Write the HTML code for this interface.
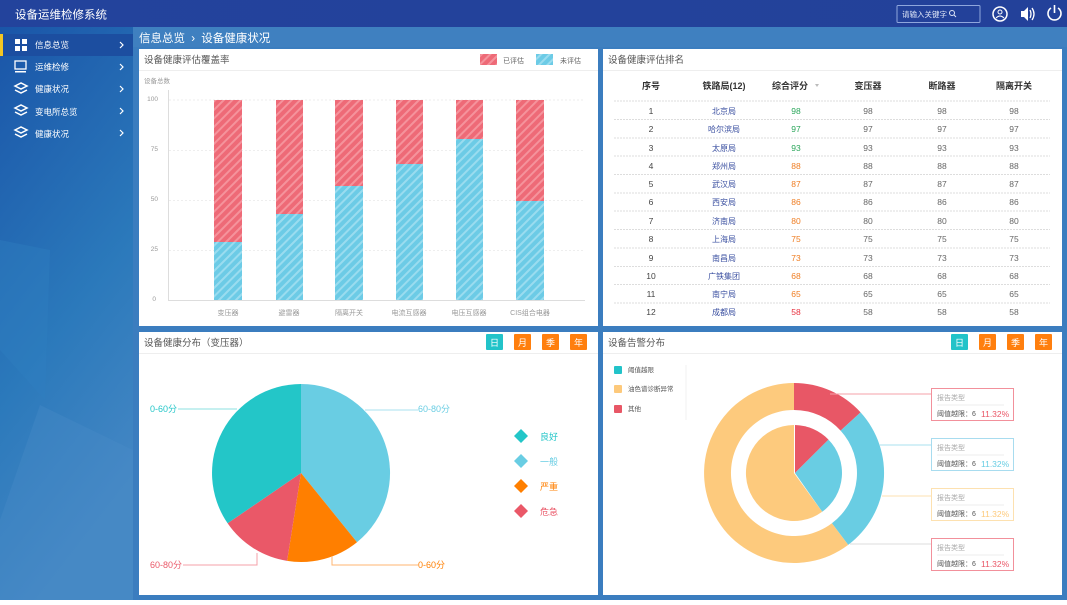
<!DOCTYPE html>
<html><head><meta charset="utf-8"><style>
body{margin:0;width:1067px;height:600px;overflow:hidden;font-family:"Liberation Sans","Noto Sans CJK SC",sans-serif;}
</style></head><body>
<svg width="1067" height="600" xmlns="http://www.w3.org/2000/svg" font-family="Liberation Sans, Noto Sans CJK SC, sans-serif">
<defs>
<linearGradient id="sb" x1="0" y1="0" x2="0.3" y2="1"><stop offset="0" stop-color="#1a55a8"/><stop offset="0.6" stop-color="#2b79bb"/><stop offset="1" stop-color="#4487c4"/></linearGradient>
<linearGradient id="hd" x1="0" y1="0" x2="1" y2="0"><stop offset="0" stop-color="#23439c"/><stop offset="1" stop-color="#23419a"/></linearGradient>
<pattern id="pr" width="6" height="6" patternUnits="userSpaceOnUse" patternTransform="rotate(-45)"><rect width="6" height="6" fill="#ee6a77"/><rect width="6" height="2" fill="#f5939c"/></pattern>
<pattern id="pb" width="6" height="6" patternUnits="userSpaceOnUse" patternTransform="rotate(-45)"><rect width="6" height="6" fill="#6ccbe6"/><rect width="6" height="2" fill="#9adcef"/></pattern>
</defs>
<rect width="1067" height="600" fill="#3b7dbf"/>
<rect x="0" y="27" width="133" height="573" fill="url(#sb)"/>
<polygon points="0,240 50,250 45,400 0,350" fill="#2f7fc0" opacity="0.4"/>
<polygon points="40,405 133,450 133,600 0,600 0,520" fill="#4a8cc8" opacity="0.35"/>
<rect x="0" y="0" width="1067" height="27" fill="url(#hd)"/>
<text x="15" y="18.5" fill="#fff" font-size="11.5">设备运维检修系统</text>
<rect x="897" y="5.5" width="83" height="17" fill="none" stroke="#8fa6dc" rx="1"/>
<text x="902" y="17" fill="#dfe6f7" font-size="7.5">请输入关键字</text>
<circle cx="952" cy="13" r="2.5" fill="none" stroke="#dfe6f7"/><line x1="954" y1="15" x2="956" y2="17" stroke="#dfe6f7"/>
<circle cx="1000" cy="14" r="7" fill="none" stroke="#fff" stroke-width="1.5"/><circle cx="1000" cy="12" r="2" fill="none" stroke="#fff"/><path d="M996 18 Q1000 14 1004 18" fill="none" stroke="#fff"/>
<path d="M1021 11 h3 l4 -4 v14 l-4 -4 h-3 z" fill="#fff"/><path d="M1030 10 q2 4 0 8 M1032 8 q4 6 0 12" stroke="#fff" fill="none" stroke-width="1.3"/>
<path d="M1051 8 a6.5 6.5 0 1 0 7 0" fill="none" stroke="#fff" stroke-width="1.6"/><line x1="1054.5" y1="5" x2="1054.5" y2="13" stroke="#fff" stroke-width="1.6"/>
<rect x="0" y="34" width="133" height="22" fill="#1c4ea0"/><rect x="0" y="34" width="3" height="22" fill="#f3c623"/>
<g fill="#fff" font-size="8.5">
<rect x="15" y="39" width="5" height="5"/><rect x="22" y="39" width="5" height="5"/><rect x="15" y="46" width="5" height="5"/><rect x="22" y="46" width="5" height="5"/>
<text x="35" y="48">信息总览</text>
<rect x="15" y="61" width="11" height="8" fill="none" stroke="#fff" stroke-width="1.3"/><rect x="15" y="71" width="11" height="1.5"/>
<text x="35" y="70">运维检修</text>
<path d="M15 86 l6 -3 l6 3 l-6 3 z M15 90 l6 3 l6 -3" fill="none" stroke="#fff" stroke-width="1.5"/><text x="35" y="92">健康状况</text>
<path d="M15 108 l6 -3 l6 3 l-6 3 z M15 112 l6 3 l6 -3" fill="none" stroke="#fff" stroke-width="1.5"/><text x="35" y="115">变电所总览</text>
<path d="M15 130 l6 -3 l6 3 l-6 3 z M15 134 l6 3 l6 -3" fill="none" stroke="#fff" stroke-width="1.5"/><text x="35" y="137">健康状况</text>
</g>
<g stroke="#fff" fill="none" stroke-width="1.2"><path d="M120 42 l3 3 l-3 3"/><path d="M120 64 l3 3 l-3 3"/><path d="M120 86 l3 3 l-3 3"/><path d="M120 108 l3 3 l-3 3"/><path d="M120 130 l3 3 l-3 3"/></g>
<rect x="133" y="27" width="934" height="20" fill="#3f80c0"/>
<text x="139" y="42" fill="#fff" font-size="11.5">信息总览 <tspan dx="3">›</tspan> <tspan dx="3">设备健康状况</tspan></text>
<g fill="#fff"><rect x="139" y="49" width="459" height="277"/><rect x="603" y="49" width="459" height="277"/><rect x="139" y="332" width="459" height="263"/><rect x="603" y="332" width="459" height="263"/></g>
<g stroke="#eee"><line x1="139" y1="70.5" x2="598" y2="70.5"/><line x1="603" y1="70.5" x2="1062" y2="70.5"/><line x1="139" y1="353.5" x2="598" y2="353.5"/><line x1="603" y1="353.5" x2="1062" y2="353.5"/></g>
<g fill="#555" font-size="9.5"><text x="144" y="63">设备健康评估覆盖率</text><text x="608" y="63">设备健康评估排名</text><text x="144" y="346">设备健康分布（变压器）</text><text x="608" y="346">设备告警分布</text></g>
<rect x="480" y="54" width="17" height="11" fill="url(#pr)"/><text x="503" y="63" font-size="7" fill="#666">已评估</text>
<rect x="536" y="54" width="17" height="11" fill="url(#pb)"/><text x="560" y="63" font-size="7" fill="#666">未评估</text>
<text x="144" y="83" font-size="6.5" fill="#999">设备总数</text>
<g stroke="#eee" stroke-dasharray="2,2"><line x1="169" y1="100" x2="585" y2="100"/><line x1="169" y1="150.5" x2="585" y2="150.5"/><line x1="169" y1="200.5" x2="585" y2="200.5"/><line x1="169" y1="250.5" x2="585" y2="250.5"/></g>
<line x1="168.5" y1="90" x2="168.5" y2="301" stroke="#ddd"/><line x1="168" y1="300.5" x2="585" y2="300.5" stroke="#ddd"/>
<g font-size="6.5" fill="#999" text-anchor="end"><text x="158" y="101">100</text><text x="158" y="151">75</text><text x="158" y="201">50</text><text x="158" y="251">25</text><text x="156" y="301">0</text></g>
<g>
<rect x="214" y="100" width="28" height="142" fill="url(#pr)"/><rect x="214" y="242" width="28" height="58" fill="url(#pb)"/>
<rect x="276" y="100" width="27" height="114" fill="url(#pr)"/><rect x="276" y="214" width="27" height="86" fill="url(#pb)"/>
<rect x="335" y="100" width="28" height="86" fill="url(#pr)"/><rect x="335" y="186" width="28" height="114" fill="url(#pb)"/>
<rect x="396" y="100" width="27" height="64" fill="url(#pr)"/><rect x="396" y="164" width="27" height="136" fill="url(#pb)"/>
<rect x="456" y="100" width="27" height="39" fill="url(#pr)"/><rect x="456" y="139" width="27" height="161" fill="url(#pb)"/>
<rect x="516" y="100" width="28" height="101" fill="url(#pr)"/><rect x="516" y="201" width="28" height="99" fill="url(#pb)"/>
</g>
<g font-size="7" fill="#999" text-anchor="middle"><text x="228" y="315">变压器</text><text x="289" y="315">避雷器</text><text x="349" y="315">隔离开关</text><text x="409" y="315">电流互感器</text><text x="469" y="315">电压互感器</text><text x="530" y="315">CIS组合电器</text></g>
<g font-size="9" fill="#333" font-weight="bold" text-anchor="middle"><text x="651" y="89">序号</text><text x="724" y="89">铁路局(12)</text><text x="790" y="89">综合评分</text><text x="868" y="89">变压器</text><text x="942" y="89">断路器</text><text x="1014" y="89">隔离开关</text></g>
<path d="M815 84 h4 l-2 3 z" fill="#bbb"/>
<g stroke="#ddd" stroke-dasharray="2,1"><line x1="614" y1="101" x2="1050" y2="101"/><line x1="614" y1="119.5" x2="1050" y2="119.5"/><line x1="614" y1="138" x2="1050" y2="138"/><line x1="614" y1="156" x2="1050" y2="156"/><line x1="614" y1="174.5" x2="1050" y2="174.5"/><line x1="614" y1="193" x2="1050" y2="193"/><line x1="614" y1="211" x2="1050" y2="211"/><line x1="614" y1="229.5" x2="1050" y2="229.5"/><line x1="614" y1="248" x2="1050" y2="248"/><line x1="614" y1="266.5" x2="1050" y2="266.5"/><line x1="614" y1="284.5" x2="1050" y2="284.5"/><line x1="614" y1="303" x2="1050" y2="303"/></g>
<g font-size="8.5" text-anchor="middle">
<g fill="#444"><text x="651" y="114">1</text><text x="651" y="132">2</text><text x="651" y="151">3</text><text x="651" y="169">4</text><text x="651" y="187">5</text><text x="651" y="205">6</text><text x="651" y="224">7</text><text x="651" y="242">8</text><text x="651" y="261">9</text><text x="651" y="279">10</text><text x="651" y="297">11</text><text x="651" y="315">12</text></g>
<g fill="#3a4fa0" font-size="8"><text x="724" y="114">北京局</text><text x="724" y="132">哈尔滨局</text><text x="724" y="151">太原局</text><text x="724" y="169">郑州局</text><text x="724" y="187">武汉局</text><text x="724" y="205">西安局</text><text x="724" y="224">济南局</text><text x="724" y="242">上海局</text><text x="724" y="261">南昌局</text><text x="724" y="279">广铁集团</text><text x="724" y="297">南宁局</text><text x="724" y="315">成都局</text></g>
<g fill="#2aa65a"><text x="796" y="114">98</text><text x="796" y="132">97</text><text x="796" y="151">93</text></g>
<g fill="#ef7d22"><text x="796" y="169">88</text><text x="796" y="187">87</text><text x="796" y="205">86</text><text x="796" y="224">80</text><text x="796" y="242">75</text><text x="796" y="261">73</text><text x="796" y="279">68</text><text x="796" y="297">65</text></g>
<text x="796" y="315" fill="#e8303e">58</text>
<g fill="#666">
<text x="868" y="114">98</text><text x="868" y="132">97</text><text x="868" y="151">93</text><text x="868" y="169">88</text><text x="868" y="187">87</text><text x="868" y="205">86</text><text x="868" y="224">80</text><text x="868" y="242">75</text><text x="868" y="261">73</text><text x="868" y="279">68</text><text x="868" y="297">65</text><text x="868" y="315">58</text>
<text x="942" y="114">98</text><text x="942" y="132">97</text><text x="942" y="151">93</text><text x="942" y="169">88</text><text x="942" y="187">87</text><text x="942" y="205">86</text><text x="942" y="224">80</text><text x="942" y="242">75</text><text x="942" y="261">73</text><text x="942" y="279">68</text><text x="942" y="297">65</text><text x="942" y="315">58</text>
<text x="1014" y="114">98</text><text x="1014" y="132">97</text><text x="1014" y="151">93</text><text x="1014" y="169">88</text><text x="1014" y="187">87</text><text x="1014" y="205">86</text><text x="1014" y="224">80</text><text x="1014" y="242">75</text><text x="1014" y="261">73</text><text x="1014" y="279">68</text><text x="1014" y="297">65</text><text x="1014" y="315">58</text>
</g></g>
<g font-size="9" fill="#fff" text-anchor="middle">
<rect x="486" y="334" width="17" height="16" fill="#22c3c9" rx="1"/><text x="494.5" y="346">日</text>
<rect x="514" y="334" width="17" height="16" fill="#ff7f0e" rx="1"/><text x="522.5" y="346">月</text>
<rect x="542" y="334" width="17" height="16" fill="#ff7f0e" rx="1"/><text x="550.5" y="346">季</text>
<rect x="570" y="334" width="17" height="16" fill="#ff7f0e" rx="1"/><text x="578.5" y="346">年</text>
<rect x="951" y="334" width="17" height="16" fill="#22c3c9" rx="1"/><text x="959.5" y="346">日</text>
<rect x="979" y="334" width="17" height="16" fill="#ff7f0e" rx="1"/><text x="987.5" y="346">月</text>
<rect x="1007" y="334" width="17" height="16" fill="#ff7f0e" rx="1"/><text x="1015.5" y="346">季</text>
<rect x="1035" y="334" width="17" height="16" fill="#ff7f0e" rx="1"/><text x="1043.5" y="346">年</text>
</g>
<path d="M301 473 L301 384 A89 89 0 0 1 357 542.2 Z" fill="#69cde3"/>
<path d="M301 473 L357 542.2 A89 89 0 0 1 287.1 560.9 Z" fill="#ff7f00"/>
<path d="M301 473 L287.1 560.9 A89 89 0 0 1 227.6 523.3 Z" fill="#ea5868"/>
<path d="M301 473 L227.6 523.3 A89 89 0 0 1 301 384 Z" fill="#23c6c8"/>
<g fill="none" stroke-width="1"><path d="M178 409 H237" stroke="#8ee0e2"/><path d="M365 410 H418" stroke="#a8e0ef"/><path d="M183 565 H257 V553" stroke="#f5a0a9"/><path d="M332 556 V565 H418" stroke="#ffb570"/></g>
<g font-size="9"><text x="150" y="412" fill="#23c6c8">0-60分</text><text x="418" y="412" fill="#69cde3">60-80分</text><text x="150" y="568" fill="#ea5868">60-80分</text><text x="418" y="568" fill="#ff7f00">0-60分</text></g>
<g><path d="M521 429 l7 7 l-7 7 l-7 -7 z" fill="#23c6c8"/><path d="M521 454 l7 7 l-7 7 l-7 -7 z" fill="#69cde3"/><path d="M521 479 l7 7 l-7 7 l-7 -7 z" fill="#ff7f00"/><path d="M521 504 l7 7 l-7 7 l-7 -7 z" fill="#ea5868"/></g>
<g font-size="9"><text x="540" y="440" fill="#23c6c8">良好</text><text x="540" y="465" fill="#69cde3">一般</text><text x="540" y="490" fill="#ff7f00">严重</text><text x="540" y="515" fill="#ea5868">危急</text></g>
<line x1="686" y1="365" x2="686" y2="420" stroke="#f0f0f0"/>
<rect x="614" y="366" width="8" height="8" fill="#22c3c9" rx="1"/><rect x="614" y="385" width="8" height="8" fill="#fdc97b" rx="1"/><rect x="614" y="405" width="8" height="8" fill="#e85766" rx="1"/>
<g font-size="6.5" fill="#555"><text x="628" y="372">阈值越限</text><text x="628" y="391">油色谱诊断异常</text><text x="628" y="411">其他</text></g>
<path d="M794 473 m0 -90 A90 90 0 0 1 860.6 412.4 L840.6 430.6 A63 63 0 0 0 794 410 Z" fill="#e85766"/>
<path d="M860.6 412.4 A90 90 0 0 1 848.2 544.9 L831.9 523.3 A63 63 0 0 0 840.6 430.6 Z" fill="#69cde3"/>
<path d="M848.2 544.9 A90 90 0 1 1 794 383 L794 410 A63 63 0 1 0 831.9 523.3 Z" fill="#fdca7d"/>
<path d="M795 473 L795 425 A48 48 0 0 1 828.5 439.6 Z" fill="#e85766"/>
<path d="M795 473 L828.5 439.6 A48 48 0 0 1 822.2 511.8 Z" fill="#69cde3"/>
<path d="M794 473 L822.2 511.8 A48 48 0 1 1 794 425 Z" fill="#fdca7d"/>
<g fill="none"><path d="M830 394 H931" stroke="#f5a0a9"/><path d="M880 445 H931" stroke="#a8e0ef"/><path d="M882 496 H931" stroke="#fde1b0"/><path d="M850 544 H931" stroke="#ddd"/></g>
<g font-size="7">
<rect x="931.5" y="388.5" width="82" height="32" fill="#fff" stroke="#f2909b"/><text x="937" y="400" fill="#aaa">报告类型</text><line x1="937" y1="405" x2="1004" y2="405" stroke="#eee"/><text x="937" y="416" fill="#555">阈值越限：6</text><text x="981" y="417" fill="#ea5868" font-size="8.5">11.32%</text>
<rect x="931.5" y="438.5" width="82" height="32" fill="#fff" stroke="#a8dcef"/><text x="937" y="450" fill="#aaa">报告类型</text><line x1="937" y1="455" x2="1004" y2="455" stroke="#eee"/><text x="937" y="466" fill="#555">阈值越限：6</text><text x="981" y="467" fill="#69cde3" font-size="8.5">11.32%</text>
<rect x="931.5" y="488.5" width="82" height="32" fill="#fff" stroke="#fde1b0"/><text x="937" y="500" fill="#aaa">报告类型</text><line x1="937" y1="505" x2="1004" y2="505" stroke="#eee"/><text x="937" y="516" fill="#555">阈值越限：6</text><text x="981" y="517" fill="#fdca7d" font-size="8.5">11.32%</text>
<rect x="931.5" y="538.5" width="82" height="32" fill="#fff" stroke="#f2909b"/><text x="937" y="550" fill="#aaa">报告类型</text><line x1="937" y1="555" x2="1004" y2="555" stroke="#eee"/><text x="937" y="566" fill="#555">阈值越限：6</text><text x="981" y="567" fill="#ea5868" font-size="8.5">11.32%</text>
</g>
</svg>
</body></html>
